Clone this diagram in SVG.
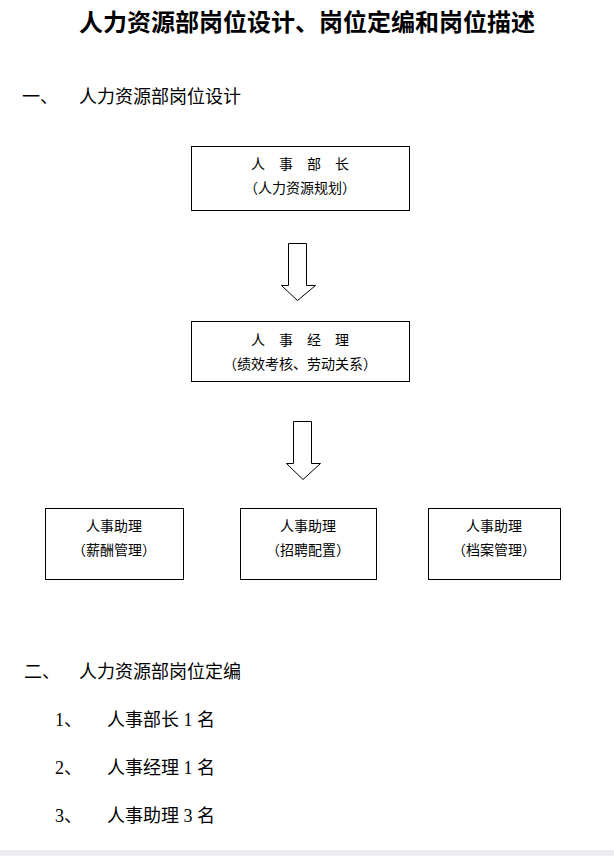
<svg xmlns="http://www.w3.org/2000/svg" width="614" height="856" viewBox="0 0 614 856">
<style>
.t{font-family:"Liberation Serif","Noto Sans CJK SC",serif;fill:#000}
.b{fill:#fff;stroke:#000;stroke-width:1}
.n{font-family:"Noto Sans CJK SC",sans-serif;font-size:14px;text-anchor:middle}
.h{font-size:18px}
.a{fill:#fff;stroke:#000;stroke-width:1}
</style>
<rect width="614" height="856" fill="#fff"/>
<rect x="0" y="850" width="614" height="6" fill="#ececf0"/>
<text class="t" x="307" y="31" text-anchor="middle" font-size="24" font-weight="bold">人力资源部岗位设计、岗位定编和岗位描述</text>
<text class="t h" x="22" y="103">一、</text>
<text class="t h" x="79" y="103">人力资源部岗位设计</text>
<g id="n1"><rect class="b" x="191.5" y="146.5" width="218" height="64"/>
<text class="n" x="300" y="169">人　事　部　长</text><text class="n" x="300" y="193">（人力资源规划）</text></g>
<g id="n2"><rect class="b" x="191.5" y="321.5" width="218" height="60"/>
<text class="n" x="300" y="345">人　事　经　理</text><text class="n" x="300" y="369">（绩效考核、劳动关系）</text></g>
<g id="n3"><rect class="b" x="45.5" y="508.5" width="138" height="71"/>
<text class="n" x="114" y="531">人事助理</text><text class="n" x="114" y="555">（薪酬管理）</text></g>
<g id="n4"><rect class="b" x="240.5" y="508.5" width="136" height="71"/>
<text class="n" x="308" y="531">人事助理</text><text class="n" x="308" y="555">（招聘配置）</text></g>
<g id="n5"><rect class="b" x="428.5" y="508.5" width="132" height="71"/>
<text class="n" x="494" y="531">人事助理</text><text class="n" x="494" y="555">（档案管理）</text></g>
<g id="connectors">
<path class="a" d="M288.5,243.5 H306.5 V285.5 H315.5 L297.5,300.5 L281.5,285.5 H288.5 Z"/>
<path class="a" d="M293.5,421.5 H311.5 V463.5 H320.5 L303,479.5 L286.5,463.5 H293.5 Z"/>
</g>
<text class="t h" x="24" y="678">二、</text>
<text class="t h" x="79" y="678">人力资源部岗位定编</text>
<text class="t h" x="55" y="726">1、</text><text class="t h" x="107" y="726">人事部长 1 名</text>
<text class="t h" x="55" y="774">2、</text><text class="t h" x="107" y="774">人事经理 1 名</text>
<text class="t h" x="55" y="822">3、</text><text class="t h" x="107" y="822">人事助理 3 名</text>
</svg>
